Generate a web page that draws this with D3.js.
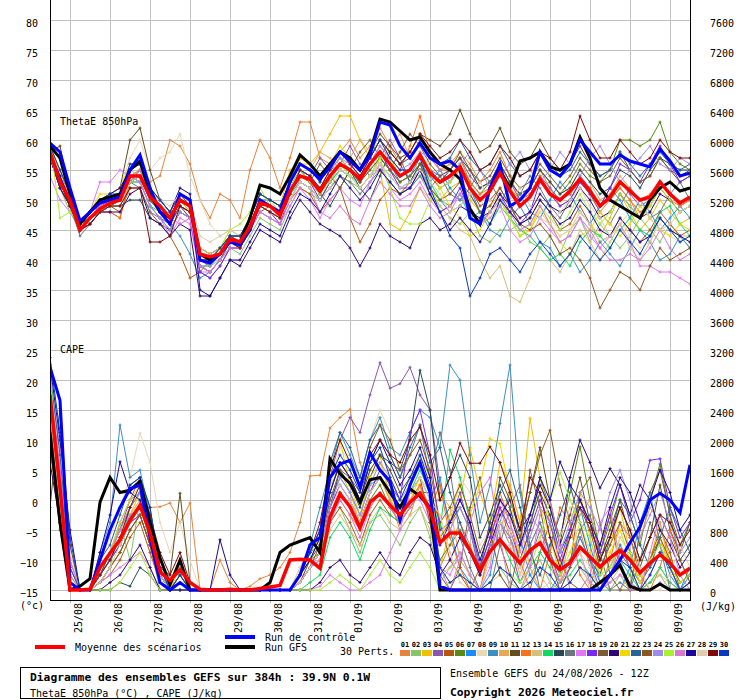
<!DOCTYPE html>
<html>
<head>
<meta charset="utf-8">
<script src="https://cdn.jsdelivr.net/npm/d3@7"></script>
<style>
  body { margin: 0; background: #fff; }
  text { font-family: "DejaVu Sans Mono", monospace; fill: #000; }
</style>
</head>
<body>
<svg id="chart" width="740" height="700"></svg>
<script>
// values are read off the picture, 6-hourly from 24/08 12Z to 09/09 12Z
// "|" splits the days (24/08 has 2 steps, 09/09 has 3)
const thetaTicks = [-15, -10, -5, 0, 5, 10, 15, 20, 25, 30, 35, 40, 45, 50, 55, 60, 65, 70, 75, 80]
const capeTicks = [0, 400, 800, 1200, 1600, 2000, 2400, 2800, 3200, 3600, 4000, 4400, 4800, 5200, 5600, 6000, 6400, 6800, 7200, 7600]
const dateLabels = ['25/08', '26/08', '27/08', '28/08', '29/08', '30/08', '31/08', '01/09', '02/09', '03/09', '04/09', '05/09', '06/09', '07/09', '08/09', '09/09']

const memberColors = ['#e8843a', '#88c46c', '#f0c000', '#8c54ac', '#b4560e', '#5a8a10', '#1a8cff', '#e8d8b4', '#3c90c0', '#e8a858',
  '#644c1c', '#f8701c', '#d4c07c', '#10d860', '#284858', '#687880', '#e078f8', '#7828f0', '#7c5c30', '#300874',
  '#f0d800', '#286498', '#8c5820', '#a08ce8', '#a8f030', '#d878d0', '#1c0898', '#e0ccac', '#800808', '#0838c0']

const thetaMean = '58 53|50 45 47 48.5|49.5 50 54 54|50.5 49 47 50|49 41 40.5 41|43.5 43 45.5 49.5|49 47.5 51.5 54|53.5 51.5 54 56|55 53.5 56 58|56 54 55 57.5|54.5 53 54 55.5|52 50 51.5 54.5|51.5 49 50.5 53.5|51 50 51.5 53.5|51.5 49 50.5 53|51.5 50 50.5 53|51 49.5 50.5'
const thetaControl = '59.5 58|52 46.5 48 49.5|50 50.5 55 57.5|52 48 46 51|50 40 39.5 41|43 42.5 45 50|49 48 53 56|55 53.5 55.5 58|56.5 55 57.5 63|62.5 59 57 59.5|57 56 56.5 55|47 46 52 56|49 50 52 58|55 54 56 60|58 56 56 57.5|56.5 56 55.5 58.5|56.5 54 54.5'
const thetaGfs = '59 57|51 46 48 50|50.5 51 55 56.5|51 48 47 50|49 41 40 41|43.5 43 47 52.5|52 51 54 57.5|56 54 56 58|57 55 58 63.5|63 61.5 60 60.5|58 56 55 53.5|48.5 46 52 55|52 56.5 57 58|55.5 55 56 60.5|57 52 50 49|48 47 50 52|53 51.5 52'

const thetaPerts = [
  '58 55|50 46 47 48|48 47 54 55|53 54 60 59|56 50 47 51|50 47 55 60|57 52 57 63|63 57 56 58|60 57 59 62|59 56 58 61|57 55 56 58|56 53 55 58|54 50 52 55|52 49 50 53|51 48 50 52|50 47 49 52|50 48 49',
  '57 52|48 45 47 48|49 50 53 53|49 47 46 49|48 40 39 40|42 41 44 47|46 45 49 52|51 50 52 54|53 52 54 55|53 51 52 54|51 49 47 46|48 44 43 45|45 46 43 42|44 41 45 47|43 46 44 42|44 47 45 43|46 44 42',
  '59 54|50 45 47 49|50 51 55 54|50 48 46 49|47 39 38 40|42 42 46 50|50 49 55 56|56 58 61 64|64 60 57 55|46 45 48 52|50 50 52 53|50 48 49 51|47 44 45 48|46 44 45 48|46 44 47 51|48 45 47 50|48 46 47',
  '58 53|49 45 47 49|50 51 54 53|49 47 45 48|47 38 37 39|42 42 45 49|48 47 51 55|54 57 55 56|59 56 54 57|60 57 53 55|55 54 55 57|54 52 53 56|53 50 51 54|52 50 51 54|52 49 50 53|51 49 50 53|51 49 50',
  '57 52|49 45 46 48|49 48 52 52|48 46 44 41|37 38 40 41|44 43 45 48|49 47 50 52|51 48 50 52|47 43 46 50|52 51 53 56|54 52 53 55|52 49 50 52|49 46 47 50|48 45 46 49|46 43 44 47|45 43 45 48|46 44 45',
  '58 53|50 46 47 48|49 50 53 54|51 49 47 50|49 41 40 42|44 43 46 50|49 48 52 55|54 52 55 57|55 53 56 58|56 54 55 57|55 53 54 56|53 51 53 56|53 51 52 55|53 51 53 56|54 53 55 60|60 59 60 63|58 56 55',
  '59 55|51 46 48 50|50 51 55 56|51 48 46 50|49 40 39 41|43 43 46 50|50 49 52 55|53 51 54 56|55 53 56 58|56 53 54 57|53 55 52 50|52 48 46 49|53 51 48 47|50 53 51 48|46 49 52 50|47 50 48 45|47 49 47',
  '58 54|50 46 48 50|51 52 57 60|55 57 58 61|54 50 46 44|45 44 46 49|49 47 51 54|53 51 53 55|54 52 54 57|55 52 53 56|52 50 49 51|48 46 47 50|47 45 46 48|46 44 45 48|46 43 44 47|44 42 43 46|44 43 44',
  '58 53|49 45 47 48|49 50 53 54|50 48 46 44|41 37 38 40|43 43 46 49|48 47 51 53|52 50 53 55|54 52 54 56|54 52 53 55|52 50 48 49|51 48 45 44|47 49 46 43|42 39 41 38|40 43 41 39|42 45 43 40|41 44 42',
  '57 53|50 46 47 49|50 50 54 55|51 50 48 51|50 42 41 42|44 44 47 51|50 49 53 56|55 58 57 55|57 60 58 56|59 61 57 55|57 55 56 57|55 52 53 56|53 51 52 55|53 51 52 55|53 50 51 54|52 50 51 53|51 49 50',
  '58 59|51 46 48 50|51 52 60 62|55 50 48 51|49 42 41 42|44 44 47 51|50 49 53 57|56 54 56 58|57 55 58 61|59 57 58 61|60 59 61 65|61 58 59 62|58 56 57 60|57 55 56 59|56 54 55 58|55 53 54 57|55 53 54',
  '58 53|49 45 47 48|48 47 53 54|50 49 47 50|48 40 39 41|43 42 45 49|48 47 51 54|53 51 54 56|55 53 56 59|57 55 59 64|58 55 55 57|53 51 52 55|52 50 51 54|51 50 51 53|52 49 50 52|50 48 49 52|50 49 50',
  '58 54|50 46 47 48|50 51 55 56|52 49 47 51|50 42 41 42|43 43 46 50|49 48 52 55|54 52 54 57|55 54 56 58|55 53 54 56|52 49 47 45|44 40 37 39|34 33 37 42|40 38 41 45|43 40 43 46|42 40 43 47|45 44 44',
  '58 53|50 45 47 48|49 49 53 53|49 48 46 49|48 39 39 41|43 43 46 49|48 47 51 53|52 50 53 55|54 53 55 57|55 53 54 56|53 50 49 51|47 48 46 49|47 45 44 42|40 41 39 43|45 44 42 45|47 45 44 48|49 46 44',
  '57 52|49 46 47 48|49 49 50 50|47 46 45 48|47 39 38 40|43 42 46 50|49 48 52 55|54 51 49 52|55 52 50 54|58 56 53 56|55 53 55 57|55 52 53 56|53 51 52 55|53 51 52 55|53 51 52 55|54 52 55 57|56 55 55',
  '58 53|49 44 46 48|49 50 53 52|48 47 46 49|48 39 38 40|43 42 45 48|47 46 50 53|52 50 52 54|53 51 53 55|53 51 52 54|52 54 51 50|52 55 53 50|48 51 54 52|49 47 50 53|51 48 46 49|52 50 47 48|51 53 50',
  '54 50|48 46 48 53|53 55 54 53|49 47 44 47|46 38 38 40|42 42 45 48|47 46 49 52|50 47 50 52|50 49 53 56|52 50 51 53|50 48 49 51|48 46 47 49|45 43 44 47|45 43 44 47|44 42 44 46|43 39 39 38|38 37 36',
  '58 53|50 45 47 49|50 50 53 54|50 48 46 49|47 38 37 39|42 42 45 49|48 46 51 55|53 50 53 56|55 53 56 58|55 52 52 55|51 48 49 52|48 46 48 51|48 46 48 53|51 49 50 53|51 49 52 56|55 53 56 59|56 53 54',
  '58 53|50 46 48 49|50 50 53 55|51 49 47 50|49 41 40 42|44 43 46 50|49 48 52 54|53 56 54 52|55 58 60 57|55 58 61 59|56 54 55 58|55 53 54 57|54 52 53 56|54 52 54 57|55 53 54 57|55 53 54 57|55 54 55',
  '57 52|49 45 46 48|48 48 51 52|47 46 44 46|45 34 34 37|40 39 42 45|44 43 47 50|48 46 45 44|42 39 42 46|44 43 42 46|47 45 46 49|48 47 48 51|49 47 48 51|49 48 49 52|50 47 48 51|49 47 48 51|50 48 49',
  '59 55|51 46 48 51|51 52 56 56|52 50 48 51|50 41 40 42|45 44 47 51|50 48 53 57|56 53 56 59|57 55 58 60|57 54 55 58|55 52 49 47|44 45 48 50|47 44 45 49|46 43 41 44|45 48 46 44|46 49 47 45|44 46 45',
  '58 54|50 46 48 49|50 51 55 56|51 49 47 50|49 41 40 42|44 44 47 51|50 49 53 56|55 53 56 58|56 54 57 60|58 56 57 60|58 56 57 60|57 55 56 59|56 54 55 58|56 54 55 58|56 54 55 58|56 54 56 58|56 55 56',
  '58 53|49 45 47 48|49 50 54 54|50 48 46 49|48 40 40 41|43 43 46 49|48 47 51 54|53 51 54 56|55 53 55 57|55 53 54 56|52 50 51 53|51 48 49 52|49 46 45 46|44 41 42 40|37 32 35 38|37 35 39 42|40 41 42',
  '57 53|50 45 47 49|50 51 54 53|49 47 45 48|47 39 39 41|43 43 46 50|49 48 52 55|54 52 55 57|56 54 56 59|57 55 56 58|57 55 53 56|58 55 52 54|56 58 55 53|55 58 56 54|57 59 56 53|55 57 59 56|55 57 56',
  '60 47|48 46 48 50|50 51 55 56|51 49 47 50|48 40 40 42|45 46 48 52|49 48 52 55|53 51 53 56|54 52 54 57|52 47 46 46|50 52 53 55|52 50 48 50|47 44 46 49|47 45 48 51|48 46 48 51|49 47 49 52|50 48 49',
  '58 53|50 46 48 49|50 51 54 55|51 49 47 46|47 39 38 40|42 42 45 48|47 46 50 53|52 48 47 49|47 46 50 53|51 49 49 52|49 47 48 51|49 46 48 50|48 45 46 49|46 43 44 47|45 42 40 40|41 40 42 45|42 40 41',
  '58 54|50 46 48 50|51 52 55 56|52 50 48 52|51 35 34 37|40 40 43 46|45 44 48 51|50 48 51 54|52 50 52 55|53 51 52 55|51 48 45 47|45 43 46 50|48 46 47 50|48 46 47 50|48 45 44 47|45 43 44 47|45 44 43',
  '58 53|50 45 47 48|49 49 53 54|51 50 49 51|50 44 43 44|45 44 46 49|48 47 50 53|52 50 52 55|54 52 54 56|54 52 53 55|53 51 48 49|51 53 50 48|50 52 49 47|46 48 50 52|49 47 44 46|48 50 47 45|46 48 49',
  '58 53|49 45 46 48|49 49 52 52|43 43 44 49|48 40 40 41|43 42 45 49|48 47 51 55|54 52 55 58|56 54 57 60|58 56 58 61|59 57 58 60|58 55 56 59|57 54 55 58|57 55 58 64|60 57 57 60|58 56 57 60|58 57 57',
  '59 55|51 46 48 50|51 51 56 56|52 50 48 51|50 41 40 42|44 44 47 51|50 49 53 56|55 53 56 58|57 55 57 60|57 55 55 57|52 48 44 42|34 37 41 42|40 38 41 43|41 39 41 44|42 40 42 45|43 41 44 47|45 43 44',
]

const capeMean = '2600 1360|0 0 10 300|490 670 930 1130|760 240 130 270|100 10 0 0|10 0 0 20|40 60 400 410|400 290 970 1280|1110 830 1170 1280|1130 1000 1170 1290|1070 630 760 760|530 270 510 670|510 360 530 630|400 270 360 570|440 310 430 530|400 230 360 470|360 200 290'
const capeControl = '2970 2530|100 0 0 400|800 1100 1350 1400|700 100 0 100|0 0 0 0|0 0 0 0|0 0 0 200|600 700 1500 1680|1730 1370 1830 1600|1450 930 1400 1700|1300 50 0 0|0 0 0 0|0 0 0 0|0 0 0 0|0 0 200 400|630 840 1200 1290|1200 1030 1670'
const capeGfs = '2100 900|0 50 150 1170|1500 1300 1330 1450|900 430 70 400|0 0 0 0|0 0 0 0|100 500 600 650|700 500 1750 1550|1420 1170 1470 1500|1300 1100 1350 1250|1100 0 0 0|0 0 0 0|0 0 0 0|0 0 0 0|0 100 200 330|50 0 0 80|0 0 0'

const capePerts = [
  '2400 1500|300 0 0 200|400 600 900 1000|1100 1110 1160 900|1160 0 0 400|100 0 50 150|200 300 500 900|1520 1530 2160 2300|2410 1700 1300 1500|1200 800 1000 1400|900 300 600 900|600 200 500 1100|700 200 600 900|500 100 400 800|300 0 200 600|400 100 300 700|300 0 100',
  '2900 1300|0 0 0 100|300 900 400 1200|600 0 0 100|0 0 0 0|0 0 0 0|0 0 0 200|400 300 900 1100|800 500 900 1000|800 600 900 1100|700 100 300 500|200 0 100 300|100 0 200 400|100 0 100 300|100 0 0 200|0 0 100 200|0 0 0',
  '2500 1100|200 0 0 300|500 700 1000 1300|800 200 0 300|0 0 0 0|0 0 0 0|0 0 0 300|500 700 1400 1600|1300 900 1600 1800|1200 1000 1400 1800|1500 300 800 1200|1900 1300 900 1700|1400 900 2290 1500|900 300 800 1300|700 200 600 1100|500 100 400 900|400 100 200',
  '2200 1600|400 0 0 200|500 800 1200 1500|1000 400 100 300|0 0 0 0|0 0 0 0|0 0 0 200|500 800 1500 2000|2300 2100 2600 3030|2690 2750 2970 2600|2400 1400 900 1300|800 200 500 900|600 100 400 800|500 100 300 700|400 0 200 500|300 0 200 500|300 0 100',
  '1900 800|0 0 0 100|200 400 700 900|500 100 0 200|0 0 0 0|0 0 0 0|0 0 0 100|300 400 900 1100|900 600 1000 1200|1000 900 1100 1300|1300 900 400 200|0 300 900 600|200 0 0 500|900 400 100 0|0 600 1000 300|0 0 400 800|500 0 0',
  '2300 1200|100 0 0 200|400 600 900 1100|700 200 0 200|0 0 0 0|0 0 0 0|0 0 0 200|400 500 1000 1300|1100 800 1200 1400|1100 900 1100 1300|1000 400 600 800|500 200 600 900|700 400 800 1500|1100 700 1300 1910|1200 500 900 1400|1000 600 1200 1680|1000 600 900',
  '2600 1400|0 0 0 300|500 900 1200 1300|800 200 0 100|0 0 0 0|0 0 0 0|0 0 0 200|500 600 1200 1500|1300 1000 1400 1500|1300 1100 1300 1500|1200 1500 800 300|100 0 200 900|1300 700 200 0|0 200 800 1100|600 100 0 0|300 900 1300 600|200 0 300',
  '2800 1700|500 0 0 400|700 1100 1500 2090|1700 900 500 900|400 0 0 0|0 0 0 0|0 0 0 300|600 800 1400 1900|1700 1500 2000 2400|2100 1500 1600 1800|1400 700 900 1500|1300 600 800 1000|600 200 500 700|400 100 300 500|300 0 200 400|300 0 100 300|100 0 0',
  '2700 1600|300 0 0 500|900 2200 1500 1600|1000 300 0 100|0 0 0 0|0 0 0 0|0 0 0 200|600 1100 1600 2100|1800 1500 2000 2300|1900 1800 2100 2400|2300 1900 3000 2800|1800 900 1400 2220|3000 1300 600 900|500 200 400 700|400 100 300 600|300 100 300 500|300 0 200',
  '2500 1300|100 0 0 200|400 700 1000 1200|800 300 100 300|0 0 0 0|0 0 0 0|0 0 0 100|300 500 1100 1400|1200 900 1300 1500|1200 1000 1200 1400|900 1300 1100 400|200 0 500 700|1400 900 300 0|0 100 700 1000|1200 300 0 0|200 700 1100 900|300 0 0',
  '1100 2420|600 0 0 200|500 800 1100 1300|900 300 200 1290|100 0 0 0|0 0 0 0|0 0 0 100|400 600 1300 1700|1500 1200 1600 1800|1600 1300 1500 1700|1300 700 900 1100|800 300 700 1500|1200 800 1300 1900|1200 600 1000 1500|900 400 800 1200|700 300 700 1400|800 500 900',
  '2300 1200|0 0 0 100|300 500 800 1000|600 100 0 100|0 0 0 0|0 0 0 0|0 0 0 100|300 400 1000 1200|1000 800 1100 1300|1100 900 1200 1400|1100 1400 700 300|0 0 600 1300|900 400 0 0|500 1100 900 200|0 0 400 900|700 200 0 300|800 400 100',
  '2600 1500|200 0 0 300|500 800 1000 1200|700 200 0 100|0 0 0 0|0 0 0 0|0 0 0 100|300 400 800 1000|800 600 900 1100|900 800 1000 1100|800 200 300 400|200 0 100 200|0 0 100 200|0 0 100 300|100 0 100 300|100 0 100 200|100 0 0',
  '2700 1400|0 0 0 200|400 600 1100 1300|700 100 0 100|0 0 0 0|0 0 0 0|0 0 0 0|100 200 700 900|700 400 800 1100|1000 900 1300 1600|1300 800 1870 1500|900 300 500 700|400 100 300 500|300 100 200 400|200 0 200 400|200 0 100 300|100 0 0',
  '2000 1000|0 0 0 0|0 100 50 300|200 0 0 0|0 0 0 0|0 0 0 0|0 0 0 100|300 500 1100 1600|1400 1100 1500 1800|1700 1600 2000 2930|2400 1200 1500 1800|1500 700 1000 1400|1100 600 900 1300|1000 500 800 1200|900 400 700 1100|800 400 700 1000|700 400 600',
  '2500 1400|100 0 0 200|400 700 900 1100|700 200 0 100|0 0 0 0|0 0 0 0|0 0 0 200|400 700 1300 1700|1500 1200 1700 2000|1800 1500 1800 2200|1500 2100 1600 700|300 0 0 600|1100 1400 600 0|0 0 300 800|1000 500 0 100|0 400 900 600|0 0 100',
  '2800 1900|400 0 0 100|200 300 400 500|300 0 0 0|0 0 0 0|0 0 0 0|0 0 0 0|0 50 200 100|0 0 100 200|500 800 1300 1200|900 300 200 500|200 0 300 1200|900 500 1000 800|400 100 300 500|100 0 100 200|100 0 0 100|0 0 0',
  '2600 1300|100 0 0 200|400 600 900 1000|600 100 0 100|0 0 0 0|0 0 0 0|0 0 0 100|300 500 1100 1400|1200 900 1300 1600|1400 1200 2100 2400|1800 800 900 1200|900 300 700 1100|800 400 800 1200|900 400 800 1200|800 500 1000 1400|900 1200 1730 1750|1100 700 900',
  '2400 1200|0 0 0 100|300 500 800 1000|600 100 0 100|0 0 0 0|0 0 0 0|0 0 0 100|300 500 1000 1300|1100 900 1300 1500|1300 1100 1300 1500|900 200 0 300|1100 1500 800 200|0 600 1600 1100|400 0 300 1300|1500 900 200 0|0 800 1300 1600|1000 400 100',
  '1700 900|0 0 0 0|100 200 400 600|300 0 0 0|0 0 0 0|0 0 0 0|0 0 0 0|0 100 300 400|200 100 300 500|300 200 500 700|600 200 400 700|500 200 600 1000|1200 800 1000 1400|1100 600 1500 2000|1700 1360 1620 1400|1000 1400 1200 800|600 300 500',
  '2600 1500|200 0 0 300|500 900 1200 1400|900 300 0 200|0 0 0 0|0 0 0 0|0 0 0 200|500 700 1600 2000|1400 1000 1500 1700|1300 900 1200 1500|1300 700 1000 1400|1000 1400 2020 1950|1300 400 700 1100|700 200 500 900|500 200 500 800|400 100 400 700|300 100 200',
  '2900 1800|300 0 0 400|600 1000 1400 1500|1100 300 0 200|0 0 0 0|0 0 0 0|0 0 0 200|500 800 1700 2100|1900 1500 2000 2200|1800 1500 1900 2200|1700 1900 1300 900|500 300 900 1300|1600 1100 500 200|600 1000 1400 900|400 200 700 1200|1000 600 300 700|1100 800 500',
  '2300 1100|0 0 0 100|300 500 800 1000|600 100 0 100|0 0 0 0|0 0 0 0|0 0 0 100|300 600 1200 1600|1500 1300 1900 2200|2000 1600 1800 2000|1600 900 1100 1400|1000 500 800 1200|1000 700 1300 1800|2130 1400 900 1100|800 300 600 900|500 200 400 700|400 100 200',
  '2500 1300|100 0 0 200|400 700 1000 1100|700 200 0 100|0 0 0 0|0 0 0 0|0 0 0 100|300 500 1100 1500|1300 1000 1400 1700|1500 1200 1400 1700|1300 600 800 1100|800 300 600 900|700 300 700 1100|900 500 900 1300|1100 800 1300 1600|1200 700 1000 1300|900 500 700',
  '2960 1200|0 0 0 0|0 100 300 500|200 0 0 0|0 0 0 0|0 0 0 0|0 0 0 0|0 0 100 200|100 0 200 400|200 100 300 500|300 0 100 200|100 0 100 300|200 100 300 700|1200 1570 1200 900|700 200 300 700|500 200 400 600|300 100 200',
  '2700 1600|200 0 0 300|500 800 1100 1300|800 200 0 100|0 0 0 0|0 0 0 0|0 0 0 100|300 400 900 1200|1000 700 1100 1300|1100 900 1100 1300|1000 300 0 400|900 1300 1500 700|0 0 300 1000|1200 600 0 0|200 900 1100 400|0 0 500 1000|700 200 0',
  '3000 2000|800 0 0 500|1000 1710 1300 1200|800 200 0 0|0 0 0 670|200 0 0 0|0 0 0 200|400 700 1300 1700|1500 1200 1700 2000|1700 1400 1600 1900|1500 600 900 1200|900 400 800 1200|1000 600 1000 1500|1200 1710 1400 1200|900 600 1100 1500|1300 900 1200 1600|1300 800 1000',
  '2400 1100|0 0 0 100|300 600 900 1100|700 200 0 100|0 0 0 0|0 0 0 0|0 0 0 100|300 500 1000 1400|1200 900 1300 1500|1300 1100 1300 1500|1200 1000 500 100|0 0 400 900|800 300 0 0|100 700 1100 500|0 0 200 700|900 300 0 0|200 600 300',
  '2000 900|0 0 0 200|400 700 1100 1400|1000 500 200 500|100 0 0 0|0 0 0 0|0 0 0 200|500 900 1600 2000|1700 1400 1800 2000|1800 1700 2000 2170|1800 1200 1500 1960|1690 1690 1910 1700|1300 800 1500 1300|700 300 700 1100|900 400 700 1100|800 400 700 1000|900 600 800',
  '3100 2100|700 0 0 400|800 1100 1400 1500|1100 300 0 200|0 0 0 0|0 0 0 0|0 0 0 200|500 800 1500 1800|1600 1300 1700 1900|1500 1200 1500 1800|1400 300 100 200|100 0 100 300|200 0 100 300|200 0 100 300|200 0 200 400|300 0 200 500|300 0 100',
]

const parse = s => s.replace(/\|/g, ' ').trim().split(/\s+/).map(Number)

const svg = d3.select('#chart')

const start = Date.UTC(2026, 7, 24, 12)
const times = d3.range(65).map(i => new Date(start + i * 6 * 3600 * 1000))

const x = d3.scaleUtc().domain([times[0], times[64]]).range([50, 690])
const y = d3.scaleLinear().domain([-15, 80]).range([590, 20])
const yCape = d3.scaleLinear().domain([0, 7600]).range([590, 20])

const dayTimes = dateLabels.map((d, k) => new Date(Date.UTC(2026, 7, 25 + k)))

// grid
const grid = svg.append('g').attr('shape-rendering', 'crispEdges')
grid.selectAll('line.h')
  .data(thetaTicks)
  .join('line')
  .attr('x1', 50).attr('x2', 690)
  .attr('y1', d => Math.round(y(d)) + 0.5).attr('y2', d => Math.round(y(d)) + 0.5)
  .attr('stroke', '#c0c0c0')
grid.selectAll('line.v')
  .data(dayTimes)
  .join('line')
  .attr('x1', d => Math.round(x(d)) + 0.5).attr('x2', d => Math.round(x(d)) + 0.5)
  .attr('y1', 0).attr('y2', 603)
  .attr('stroke', '#c0c0c0')

// series
svg.append('clipPath').attr('id', 'clip')
  .append('rect').attr('x', 50).attr('y', 0).attr('width', 641).attr('height', 600)
const plot = svg.append('g').attr('clip-path', 'url(#clip)')

const thetaLine = d3.line().x((d, i) => x(times[i])).y(d => y(d))
const capeLine = d3.line().x((d, i) => x(times[i])).y(d => yCape(d))

const drawMember = (values, line, scale, color) => {
  plot.append('path')
    .attr('d', line(values))
    .attr('fill', 'none')
    .attr('stroke', color)
    .attr('stroke-width', 1)
  // small "+" on every step
  plot.append('path')
    .attr('d', values.map((v, i) => {
      const px = x(times[i])
      const py = scale(v)
      return `M${px - 1.5},${py}h3M${px},${py - 1.5}v3`
    }).join(''))
    .attr('stroke', color)
    .attr('stroke-width', 1)
}

thetaPerts.forEach((s, k) => drawMember(parse(s), thetaLine, y, memberColors[k]))
capePerts.forEach((s, k) => drawMember(parse(s), capeLine, yCape, memberColors[k]))

const drawThick = (values, line, color, width) => {
  plot.append('path')
    .attr('d', line(values))
    .attr('fill', 'none')
    .attr('stroke', color)
    .attr('stroke-width', width)
}

drawThick(parse(thetaGfs), thetaLine, '#000000', 3)
drawThick(parse(capeGfs), capeLine, '#000000', 3)
drawThick(parse(thetaControl), thetaLine, '#0000ff', 3)
drawThick(parse(capeControl), capeLine, '#0000ff', 3)
drawThick(parse(thetaMean), thetaLine, '#ff0000', 3.5)
drawThick(parse(capeMean), capeLine, '#ff0000', 3.5)

// frame
const frame = svg.append('g').attr('shape-rendering', 'crispEdges').attr('stroke', '#000')
frame.append('line').attr('x1', 50.5).attr('x2', 50.5).attr('y1', 0).attr('y2', 601)
frame.append('line').attr('x1', 690.5).attr('x2', 690.5).attr('y1', 0).attr('y2', 601)
frame.append('line').attr('x1', 50).attr('x2', 691).attr('y1', 600.5).attr('y2', 600.5)

const leftAxis = svg.append('g')
  .attr('transform', 'translate(50,0)')
  .call(d3.axisLeft(y).tickValues(thetaTicks).tickSize(0).tickPadding(12).tickFormat(d3.format('d')))
leftAxis.select('.domain').remove()
leftAxis.selectAll('text').attr('y', 3).style('font-size', '10px').style('font-family', '"DejaVu Sans Mono", monospace')

const rightAxis = svg.append('g')
  .attr('transform', 'translate(690,0)')
  .call(d3.axisRight(yCape).tickValues(capeTicks).tickSize(0).tickPadding(20).tickFormat(d3.format('d')))
rightAxis.select('.domain').remove()
rightAxis.selectAll('text').attr('y', 3).style('font-size', '10px').style('font-family', '"DejaVu Sans Mono", monospace')

svg.append('g').selectAll('text')
  .data(dateLabels)
  .join('text')
  .attr('transform', (d, k) => `translate(${x(dayTimes[k]) + 12},603) rotate(-90)`)
  .attr('text-anchor', 'end')
  .style('font-size', '10px')
  .text(d => d)

const label = (tx, ty, str, size, bold) => svg.append('text')
  .attr('x', tx).attr('y', ty)
  .style('font-size', size + 'px')
  .style('font-weight', bold ? 'bold' : 'normal')
  .text(str)

label(60, 125, 'ThetaE 850hPa', 10)
label(60, 353, 'CAPE', 10)
label(20, 609, '(°c)', 10)
label(700, 610, '(J/kg)', 10)

// legend
svg.append('line').attr('x1', 35).attr('x2', 65).attr('y1', 647).attr('y2', 647).attr('stroke', '#ff0000').attr('stroke-width', 4)
label(75, 651, 'Moyenne des scénarios', 10)
svg.append('line').attr('x1', 225).attr('x2', 255).attr('y1', 637).attr('y2', 637).attr('stroke', '#0000ff').attr('stroke-width', 4)
label(265, 641, 'Run de contrôle', 10)
svg.append('line').attr('x1', 225).attr('x2', 255).attr('y1', 647).attr('y2', 647).attr('stroke', '#000000').attr('stroke-width', 4)
label(265, 651, 'Run GFS', 10)
label(340, 655, '30 Perts.', 10)

const keys = svg.append('g')
keys.selectAll('rect')
  .data(memberColors)
  .join('rect')
  .attr('x', (d, k) => 400 + k * 11).attr('y', 650)
  .attr('width', 10).attr('height', 6)
  .attr('fill', d => d)
keys.selectAll('text')
  .data(memberColors)
  .join('text')
  .attr('x', (d, k) => 405 + k * 11).attr('y', 647)
  .attr('text-anchor', 'middle')
  .style('font-size', '7px')
  .style('font-weight', 'bold')
  .text((d, k) => String(k + 1).padStart(2, '0'))

// info box
svg.append('rect').attr('x', 20.5).attr('y', 667.5).attr('width', 420).attr('height', 31)
  .attr('fill', 'none').attr('stroke', '#000').attr('shape-rendering', 'crispEdges')
label(30, 681, 'Diagramme des ensembles GEFS sur 384h : 39.9N 0.1W', 11.3, true)
label(30, 696.5, 'ThetaE 850hPa (°C) , CAPE (J/kg)', 10)
label(450, 676.5, 'Ensemble GEFS du 24/08/2026 - 12Z', 10)
label(450, 695.5, 'Copyright 2026 Meteociel.fr', 11.3, true)
</script>
</body>
</html>
